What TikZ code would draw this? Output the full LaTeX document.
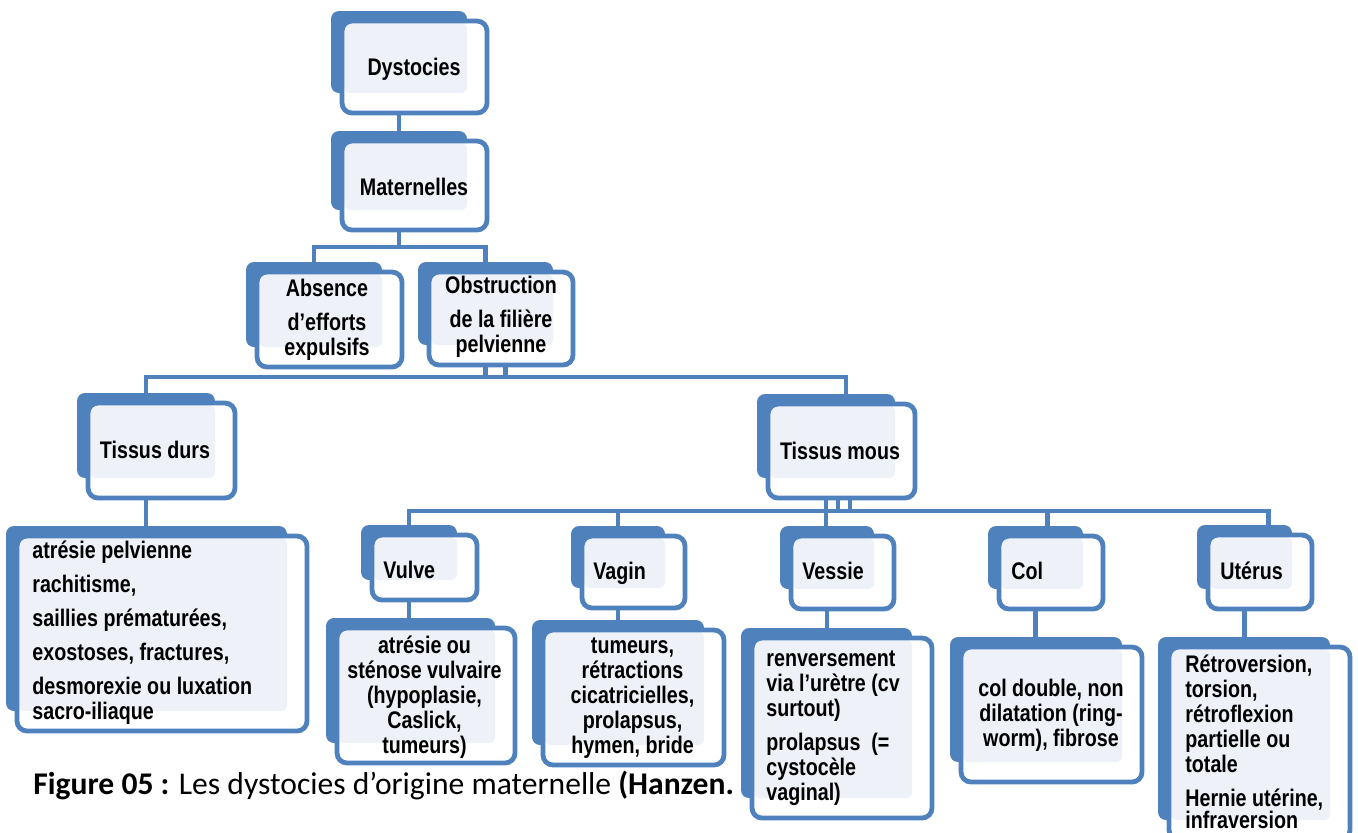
\documentclass[tikz,border=0pt]{standalone}
\usepackage{fontspec}
\setmainfont{Liberation Sans}[FakeStretch=0.82]
\newfontfamily\capfont{Carlito}
\usetikzlibrary{calc,positioning}

\definecolor{smblue}{RGB}{79,129,189}
\definecolor{smlight}{RGB}{238,241,248}

\pgfdeclarelayer{conn}
\pgfdeclarelayer{back}
\pgfsetlayers{conn,back,main}

% front box (named), back box (name-b) and the light panel between them
\newcommand\blockbox[4]{%
    \node[frontbox, minimum width=#3*0.5pt, minimum height=#4*0.5pt] (#1) at (#2) {};
    \begin{pgfonlayer}{back}
        \node[backbox, minimum width=(#3-9)*0.5pt, minimum height=(#4-10)*0.5pt] (#1-b) at ($(#2)+(-15.5,-15)$) {};
    \end{pgfonlayer}
    \fill[smlight, rounded corners=3pt] ($(#1.north west)+(2,2)$) rectangle (#1-b.south east);
    \draw[smblue, line width=2.4pt, rounded corners=5pt] (#1.north west) rectangle (#1.south east);
}

\begin{document}
\begin{tikzpicture}[
    x=0.5pt, y=-0.5pt,
    frontbox/.style={
        fill=white,
        rounded corners=5pt,
        inner sep=0pt,
        outer sep=0pt
    },
    backbox/.style={
        fill=smblue,
        rounded corners=4pt,
        inner sep=0pt,
        outer sep=0pt
    },
    lbl/.style={
        font=\fontsize{12}{12.5}\selectfont\bfseries,
        inner sep=0pt
    },
    elbow/.style={
        draw=smblue,
        line width=2.4pt
    }]
    \useasboundingbox (0,0) rectangle (1358,832);

    \blockbox{dys}{414.5,67}{145}{92}
    \blockbox{mat}{414.5,185.5}{145}{89}
    \blockbox{abs}{329.5,319.5}{145}{95}
    \blockbox{obs}{501,318.5}{144}{93}
    \blockbox{dur}{161.5,450.5}{147}{95}
    \blockbox{mou}{841.5,451}{147}{94}
    \blockbox{hard}{162,633.5}{290}{195}
    \blockbox{vul}{424.5,567.5}{105}{65}
    \blockbox{vag}{633.5,572}{103}{72}
    \blockbox{ves}{842.5,572.5}{103}{73}
    \blockbox{col}{1051,572.5}{104}{73}
    \blockbox{ute}{1260,572}{104}{74}
    \blockbox{lvul}{426,695.5}{178}{135}
    \blockbox{lvag}{633.5,697.5}{181}{135}
    \blockbox{lves}{842,728}{180}{180}
    \blockbox{lcol}{1051.5,714.5}{181}{135}
    \blockbox{lute}{1259.5,743.5}{181}{193}

    \node[lbl, anchor=base] (dys-t) at (414,75) {Dystocies};
    \node[lbl, anchor=base] (mat-t) at (414,195) {Maternelles};
    \node[lbl, anchor=north, align=center] (abs-t) at (327,279) {Absence\\[4.5pt]d’efforts\\expulsifs};
    \node[lbl, anchor=north, align=center] (obs-t) at (501,276) {Obstruction\\[4.5pt]de la filière\\pelvienne};
    \node[lbl, anchor=base] (dur-t) at (155,458) {Tissus durs};
    \node[lbl, anchor=base] (mou-t) at (840,459) {Tissus mous};
    \node[lbl, anchor=north west, align=left] (hard-t) at (32,540) {atrésie pelvienne\\[4.5pt]rachitisme,\\[4.5pt]saillies prématurées,\\[4.5pt]exostoses, fractures,\\[4.5pt]desmorexie ou luxation\\sacro-iliaque};
    \node[lbl, anchor=base west] (vul-t) at (383,578) {Vulve};
    \node[lbl, anchor=base west] (vag-t) at (593,579) {Vagin};
    \node[lbl, anchor=base west] (ves-t) at (802,579) {Vessie};
    \node[lbl, anchor=base west] (col-t) at (1011,579) {Col};
    \node[lbl, anchor=base west] (ute-t) at (1220,579) {Utérus};
    \node[lbl, anchor=north, align=center] (lvul-t) at (424.5,635) {atrésie ou\\sténose vulvaire\\(hypoplasie,\\Caslick,\\tumeurs)};
    \node[lbl, anchor=north, align=center] (lvag-t) at (632.5,637) {tumeurs,\\rétractions\\cicatricielles,\\prolapsus,\\hymen, bride};
    \node[lbl, anchor=north west, align=left] (lves-t) at (766,650) {renversement\\via l’urètre (cv\\surtout)\\[4.5pt]prolapsus\ \ (=\\cystocèle\\vaginal)};
    \node[lbl, anchor=north, align=center] (lcol-t) at (1051,679) {col double, non\\dilatation (ring-\\worm), fibrose};
    \node[lbl, anchor=north west, align=left] (lute-t) at (1185,654) {Rétroversion,\\torsion,\\rétroflexion\\partielle ou\\totale\\[4.5pt]Hernie utérine,\\[-1.5pt]infraversion};

    \begin{pgfonlayer}{conn}
        \node[font=\capfont\fontsize{15.8}{18}\selectfont, anchor=base west, inner sep=0pt] (cap) at (33,794) {\textbf{Figure 05 :} Les dystocies d’origine maternelle \textbf{(Hanzen.}};

        \draw[elbow] (dys-b.south) -- (mat-b.north);
        \draw[elbow] (mat-b.south) -- ++(0,37) -| (abs-b.north);
        \draw[elbow] (mat-b.south) -- ++(0,37) -| (obs-b.north);
        \draw[elbow] ($(obs-b.south)+(20,0)$) -- ++(0,32) -| (dur-b.north);
        \draw[elbow] (obs-b.south) -- ++(0,32) -| ($(mou-b.north)+(20,0)$);
        \draw[elbow] (dur-b.south) -- (dur-b.south |- hard-b.north);
        \draw[elbow] ($(mou-b.south)+(24,0)$) -- ++(0,33) -| (vul-b.north);
        \draw[elbow] ($(mou-b.south)+(24,0)$) -- ++(0,33) -| (vag-b.north);
        \draw[elbow] (mou-b.south) -- (mou-b.south |- ves-b.north);
        \draw[elbow] ($(mou-b.south)+(12,0)$) -- ++(0,33) -| ($(col-b.north)+(12,0)$);
        \draw[elbow] (mou-b.south) -- ++(0,33) -| ($(ute-b.north)+(24,0)$);
        \draw[elbow] (vul-b.south) -- (vul-b.south |- lvul-b.north);
        \draw[elbow] (vag-b.south) -- (vag-b.south |- lvag-b.north);
        \draw[elbow] (ves-b.south) -- (ves-b.south |- lves-b.north);
        \draw[elbow] (col-b.south) -- (col-b.south |- lcol-b.north);
        \draw[elbow] (ute-b.south) -- (ute-b.south |- lute-b.north);
    \end{pgfonlayer}
\end{tikzpicture}
\end{document}
